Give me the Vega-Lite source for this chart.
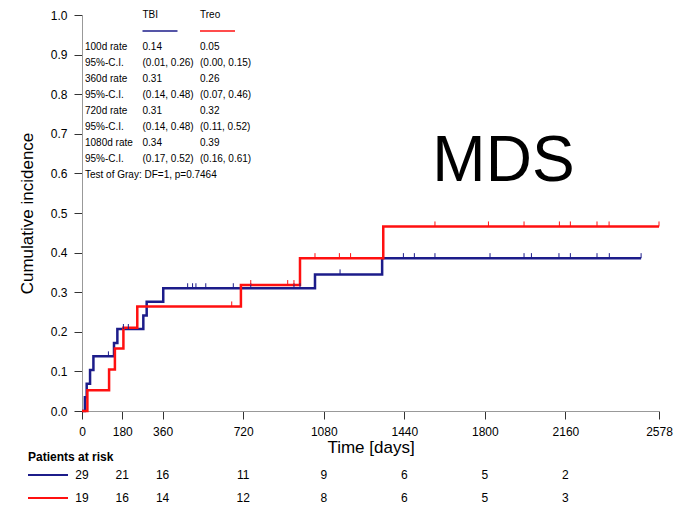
{
  "$schema": "https://vega.github.io/schema/vega-lite/v6.json",
  "padding": {"left": 18, "top": 9, "right": 5, "bottom": 2},
  "config": {"font": "Liberation Sans", "view": {"stroke": null}, "axis": {"grid": false}},
  "bounds": "flush",
  "spacing": 52.5,
  "resolve": {"scale": {"x": "independent", "y": "independent", "color": "independent"}},
  "datasets": {
    "curves": [
      {"group": "TBI", "t": 0, "ci": 0}, {"group": "TBI", "t": 13, "ci": 0.0345}, {"group": "TBI", "t": 21, "ci": 0.069},
      {"group": "TBI", "t": 36, "ci": 0.1035}, {"group": "TBI", "t": 51, "ci": 0.138}, {"group": "TBI", "t": 143, "ci": 0.172},
      {"group": "TBI", "t": 158, "ci": 0.207}, {"group": "TBI", "t": 274, "ci": 0.241}, {"group": "TBI", "t": 289, "ci": 0.276},
      {"group": "TBI", "t": 363, "ci": 0.31}, {"group": "TBI", "t": 1041, "ci": 0.345}, {"group": "TBI", "t": 1341, "ci": 0.386},
      {"group": "TBI", "t": 2498, "ci": 0.386},
      {"group": "Treo", "t": 0, "ci": 0}, {"group": "Treo", "t": 24, "ci": 0.0526}, {"group": "Treo", "t": 121, "ci": 0.105},
      {"group": "Treo", "t": 147, "ci": 0.158}, {"group": "Treo", "t": 185, "ci": 0.21}, {"group": "Treo", "t": 247, "ci": 0.264},
      {"group": "Treo", "t": 710, "ci": 0.318}, {"group": "Treo", "t": 974, "ci": 0.386}, {"group": "Treo", "t": 1346, "ci": 0.466},
      {"group": "Treo", "t": 2578, "ci": 0.466}
    ],
    "censor": [
      {"group": "TBI", "t": 118, "ci": 0.138}, {"group": "TBI", "t": 185, "ci": 0.207}, {"group": "TBI", "t": 207, "ci": 0.207},
      {"group": "TBI", "t": 472, "ci": 0.31}, {"group": "TBI", "t": 494, "ci": 0.31}, {"group": "TBI", "t": 509, "ci": 0.31},
      {"group": "TBI", "t": 553, "ci": 0.31}, {"group": "TBI", "t": 676, "ci": 0.31}, {"group": "TBI", "t": 754, "ci": 0.31},
      {"group": "TBI", "t": 947, "ci": 0.31}, {"group": "TBI", "t": 974, "ci": 0.31}, {"group": "TBI", "t": 1153, "ci": 0.345},
      {"group": "TBI", "t": 1436, "ci": 0.386}, {"group": "TBI", "t": 1485, "ci": 0.386}, {"group": "TBI", "t": 1577, "ci": 0.386},
      {"group": "TBI", "t": 1823, "ci": 0.386}, {"group": "TBI", "t": 1975, "ci": 0.386}, {"group": "TBI", "t": 2008, "ci": 0.386},
      {"group": "TBI", "t": 2131, "ci": 0.386}, {"group": "TBI", "t": 2182, "ci": 0.386}, {"group": "TBI", "t": 2301, "ci": 0.386},
      {"group": "TBI", "t": 2356, "ci": 0.386}, {"group": "TBI", "t": 2498, "ci": 0.386},
      {"group": "Treo", "t": 669, "ci": 0.264}, {"group": "Treo", "t": 754, "ci": 0.318}, {"group": "Treo", "t": 919, "ci": 0.318},
      {"group": "Treo", "t": 947, "ci": 0.318}, {"group": "Treo", "t": 1041, "ci": 0.386}, {"group": "Treo", "t": 1150, "ci": 0.386},
      {"group": "Treo", "t": 1200, "ci": 0.386}, {"group": "Treo", "t": 1577, "ci": 0.466}, {"group": "Treo", "t": 1816, "ci": 0.466},
      {"group": "Treo", "t": 1975, "ci": 0.466}, {"group": "Treo", "t": 2133, "ci": 0.466}, {"group": "Treo", "t": 2182, "ci": 0.466},
      {"group": "Treo", "t": 2301, "ci": 0.466}, {"group": "Treo", "t": 2355, "ci": 0.466}, {"group": "Treo", "t": 2578, "ci": 0.466}
    ],
    "stats": [
      {"row": 0, "label": "", "tbi": "TBI", "treo": "Treo"},
      {"row": 2, "label": "100d rate", "tbi": "0.14", "treo": "0.05"},
      {"row": 3, "label": "95%-C.I.", "tbi": "(0.01, 0.26)", "treo": "(0.00, 0.15)"},
      {"row": 4, "label": "360d rate", "tbi": "0.31", "treo": "0.26"},
      {"row": 5, "label": "95%-C.I.", "tbi": "(0.14, 0.48)", "treo": "(0.07, 0.46)"},
      {"row": 6, "label": "720d rate", "tbi": "0.31", "treo": "0.32"},
      {"row": 7, "label": "95%-C.I.", "tbi": "(0.14, 0.48)", "treo": "(0.11, 0.52)"},
      {"row": 8, "label": "1080d rate", "tbi": "0.34", "treo": "0.39"},
      {"row": 9, "label": "95%-C.I.", "tbi": "(0.17, 0.52)", "treo": "(0.16, 0.61)"},
      {"row": 10, "label": "Test of Gray: DF=1, p=0.7464", "tbi": "", "treo": ""}
    ],
    "swatches": [
      {"row": 1, "col": 1, "group": "TBI"},
      {"row": 1, "col": 2, "group": "Treo"}
    ],
    "risk": [
      {"group": "TBI", "t": 0, "n": 29}, {"group": "TBI", "t": 180, "n": 21}, {"group": "TBI", "t": 360, "n": 16},
      {"group": "TBI", "t": 720, "n": 11}, {"group": "TBI", "t": 1080, "n": 9}, {"group": "TBI", "t": 1440, "n": 6},
      {"group": "TBI", "t": 1800, "n": 5}, {"group": "TBI", "t": 2160, "n": 2},
      {"group": "Treo", "t": 0, "n": 19}, {"group": "Treo", "t": 180, "n": 16}, {"group": "Treo", "t": 360, "n": 14},
      {"group": "Treo", "t": 720, "n": 12}, {"group": "Treo", "t": 1080, "n": 8}, {"group": "Treo", "t": 1440, "n": 6},
      {"group": "Treo", "t": 1800, "n": 5}, {"group": "Treo", "t": 2160, "n": 3}
    ],
    "groups": [{"group": "TBI"}, {"group": "Treo"}]
  },
  "vconcat": [
    {
      "width": 577,
      "height": 396,
      "resolve": {"scale": {"x": "independent", "y": "independent"}},
      "layer": [
        {
          "layer": [
            {
              "data": {"name": "curves"},
              "mark": {"type": "line", "interpolate": "step-after", "strokeWidth": 2.5},
              "encoding": {
                "x": {"field": "t", "type": "quantitative", "scale": {"domain": [0, 2578], "nice": false, "zero": false},
                  "axis": {"values": [0, 180, 360, 720, 1080, 1440, 1800, 2160, 2578], "format": "d", "title": "Time [days]",
                    "titleFontSize": 17, "titleFontWeight": "normal", "titleColor": "#000", "titlePadding": 2,
                    "labelFontSize": 12, "labelColor": "#000", "labelPadding": 7, "tickSize": 8, "labelOverlap": false,
                    "tickColor": "#333", "domainColor": "#999", "labelFlush": false}},
                "y": {"field": "ci", "type": "quantitative", "scale": {"domain": [0, 1], "nice": false},
                  "axis": {"values": [0, 0.1, 0.2, 0.3, 0.4, 0.5, 0.6, 0.7, 0.8, 0.9, 1], "format": ".1f",
                    "title": "Cumulative incidence", "titleFontSize": 17, "titleFontWeight": "normal", "titleColor": "#000",
                    "titlePadding": 14, "labelFontSize": 12, "labelColor": "#000", "labelPadding": 7, "tickSize": 8,
                    "labelOverlap": false, "tickColor": "#333", "domainColor": "#999", "labelFlush": false}},
                "color": {"field": "group", "type": "nominal", "scale": {"domain": ["TBI", "Treo"], "range": ["#1c1c8a", "#ff1010"]}, "legend": null}
              }
            },
            {
              "data": {"name": "censor"},
              "mark": {"type": "point", "shape": "M0,0L0,-1", "size": 100, "filled": false, "strokeWidth": 1, "opacity": 1},
              "encoding": {
                "x": {"field": "t", "type": "quantitative"},
                "y": {"field": "ci", "type": "quantitative",
                  "axis": {"values": [0, 0.1, 0.2, 0.3, 0.4, 0.5, 0.6, 0.7, 0.8, 0.9, 1], "format": ".1f",
                    "title": "Cumulative incidence", "titleFontSize": 17, "titleFontWeight": "normal", "titleColor": "#000",
                    "titlePadding": 14, "labelFontSize": 12, "labelColor": "#000", "labelPadding": 7, "tickSize": 8,
                    "labelOverlap": false, "tickColor": "#333", "domainColor": "#999", "labelFlush": false}},
                "color": {"field": "group", "type": "nominal", "legend": null}
              }
            }
          ]
        },
        {
          "layer": [
            {
              "data": {"name": "stats"},
              "mark": {"type": "text", "fontSize": 10, "align": "left", "baseline": "middle", "dx": 3, "color": "#000"},
              "encoding": {
                "x": {"datum": 0, "type": "quantitative", "scale": {"domain": [0, 10.035], "nice": false, "zero": false}, "axis": null},
                "y": {"field": "row", "type": "quantitative", "scale": {"domain": [0, 24.75], "reverse": true, "nice": false, "zero": false}, "axis": null},
                "text": {"field": "label"}
              }
            },
            {
              "data": {"name": "stats"},
              "mark": {"type": "text", "fontSize": 10, "align": "left", "baseline": "middle", "dx": 3, "color": "#000"},
              "encoding": {
                "x": {"datum": 1, "type": "quantitative"},
                "y": {"field": "row", "type": "quantitative"},
                "text": {"field": "tbi"}
              }
            },
            {
              "data": {"name": "stats"},
              "mark": {"type": "text", "fontSize": 10, "align": "left", "baseline": "middle", "dx": 3, "color": "#000"},
              "encoding": {
                "x": {"datum": 2, "type": "quantitative"},
                "y": {"field": "row", "type": "quantitative"},
                "text": {"field": "treo"}
              }
            },
            {
              "data": {"name": "swatches"},
              "mark": {"type": "point", "shape": "stroke", "size": 1225, "filled": false, "strokeWidth": 1.6, "opacity": 1, "xOffset": 20.5},
              "encoding": {
                "x": {"field": "col", "type": "quantitative"},
                "y": {"field": "row", "type": "quantitative"},
                "color": {"field": "group", "type": "nominal", "scale": {"domain": ["TBI", "Treo"], "range": ["#1c1c8a", "#ff1010"]}, "legend": null}
              }
            },
            {
              "data": {"values": [{"name": "MDS"}]},
              "mark": {"type": "text", "fontSize": 64, "align": "center", "baseline": "alphabetic", "color": "#000"},
              "encoding": {
                "x": {"datum": 7.33, "type": "quantitative"},
                "y": {"datum": 10.36, "type": "quantitative"},
                "text": {"field": "name"}
              }
            }
          ]
        }
      ]
    },
    {
      "width": 577,
      "height": 46,
      "title": {"text": "Patients at risk", "anchor": "start", "frame": "bounds", "fontSize": 12, "fontWeight": "bold", "offset": 0, "dx": 4, "color": "#000"},
      "layer": [
        {
          "data": {"name": "risk"},
          "mark": {"type": "text", "fontSize": 12, "color": "#000", "baseline": "middle"},
          "encoding": {
            "x": {"field": "t", "type": "quantitative", "scale": {"domain": [0, 2578], "nice": false, "zero": false}, "axis": null},
            "y": {"field": "group", "type": "nominal", "scale": {"domain": ["TBI", "Treo"]}, "axis": null},
            "text": {"field": "n"}
          }
        },
        {
          "data": {"name": "groups"},
          "mark": {"type": "point", "shape": "stroke", "size": 1600, "filled": false, "strokeWidth": 2, "opacity": 1, "xOffset": -34},
          "encoding": {
            "x": {"datum": 0, "type": "quantitative"},
            "y": {"field": "group", "type": "nominal"},
            "color": {"field": "group", "type": "nominal", "scale": {"domain": ["TBI", "Treo"], "range": ["#1c1c8a", "#ff1010"]}, "legend": null}
          }
        }
      ]
    }
  ]
}
